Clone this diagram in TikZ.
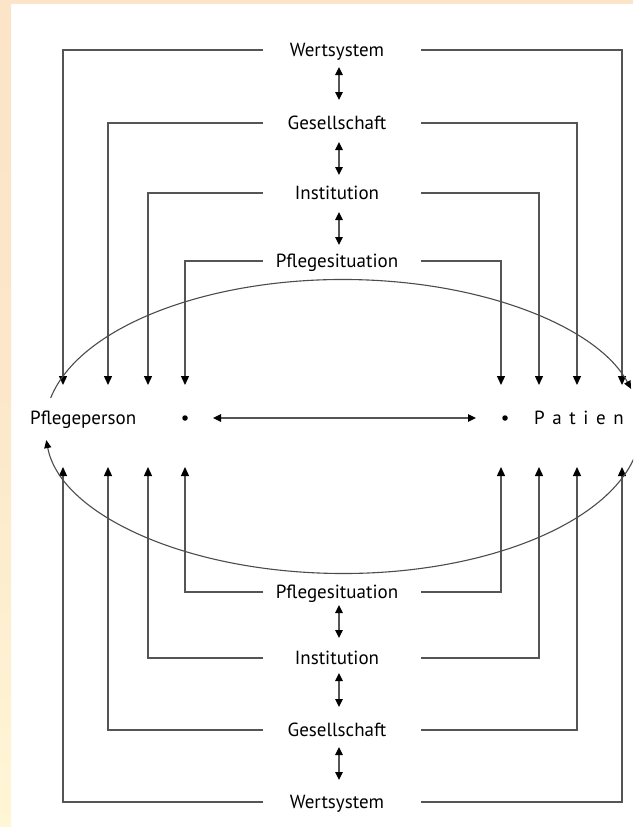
\documentclass[tikz,border=0pt]{standalone}
\usepackage{fontspec}
\setmainfont{PT Sans}
\usetikzlibrary{arrows.meta,calc}
\definecolor{peach}{HTML}{FBE4C8}
\definecolor{paleyel}{HTML}{FFF6D6}
\definecolor{linegray}{HTML}{555555}
\newcommand{\lsp}{\hspace{7.6pt}}
\begin{document}
\begin{tikzpicture}[x=1pt,y=1pt,
  lbl/.style={inner sep=0pt,anchor=base,font=\fontsize{19}{22}\selectfont,text=black},
  conn/.style={draw=linegray,line width=1.3pt},
  tip/.style={-{Triangle[length=9pt,width=8pt,fill=black,color=black]}},
  dtip/.style={{Triangle[length=8pt,width=7.5pt,color=black]}-{Triangle[length=8pt,width=7.5pt,color=black]}},
  ell/.style={draw=black!70,line width=1.1pt},
  dotn/.style={circle,fill=black,inner sep=0pt,minimum size=5.5pt}]
\useasboundingbox (0,0) rectangle (633,-827);
\fill[white] (0,0) rectangle (633,-827);
\shade[top color=peach,bottom color=paleyel,middle color=peach!80!paleyel] (0,0) rectangle (11,-827);
\fill[peach] (0,0) rectangle (633,-3.5);
\begin{scope}
\clip (0,0) rectangle (633,-827);
% labels top
\node[lbl] (wt) at (337,-56.5) {Wertsystem};
\node[lbl] (gt) at (337,-129.5) {Gesellschaft};
\node[lbl] (it) at (337,-199.5) {Institution};
\node[lbl] (pt) at (337,-267.5) {Pflegesituation};
% labels bottom
\node[lbl] (pb) at (337,-598.5) {Pflegesituation};
\node[lbl] (ib) at (337,-664.5) {Institution};
\node[lbl] (gb) at (337,-736.5) {Gesellschaft};
\node[lbl] (wb) at (337,-808.5) {Wertsystem};
% middle
\node[lbl,anchor=base west] (pp) at (30,-424.5) {Pflegeperson};
\node[lbl,anchor=base west] (pa) at (534,-424.5) {P\lsp a\lsp t\lsp i\lsp e\lsp n};
\node[dotn] (d1) at (185,-418) {};
\node[dotn] (d2) at (505,-418) {};
\coordinate (hL) at (213,-418);
\coordinate (hR) at (476,-418);
\draw[conn,dtip] (hL) -- (hR);
% double arrows between levels
\foreach \a/\b in {67/100,142/175,212/245,605/638,673/707,747/780}{
  \draw[conn,dtip] (339,-\a) -- (339,-\b);
}
% top connectors
\foreach \y/\xl/\xr in {50/63/622,123/108/577,193/148/539,261/185/501}{
  \coordinate (tl) at (263,-\y);
  \coordinate (tlc) at (\xl,-\y);
  \coordinate (tle) at (\xl,-385);
  \coordinate (tr) at (421,-\y);
  \coordinate (trc) at (\xr,-\y);
  \coordinate (tre) at (\xr,-385);
  \draw[conn,tip] (tl) -- (tlc) -- (tle);
  \draw[conn,tip] (tr) -- (trc) -- (tre);
}
% bottom connectors
\foreach \y/\xl/\xr in {592/185/501,658/148/539,730/108/577,802/63/622}{
  \coordinate (bl) at (263,-\y);
  \coordinate (blc) at (\xl,-\y);
  \coordinate (ble) at (\xl,-467);
  \coordinate (br) at (421,-\y);
  \coordinate (brc) at (\xr,-\y);
  \coordinate (bre) at (\xr,-467);
  \draw[conn,tip] (bl) -- (blc) -- (ble);
  \draw[conn,tip] (br) -- (brc) -- (bre);
}
% ellipse
\coordinate (ec) at (343,-426.5);
\draw[ell,-{Triangle[length=8pt,width=7pt,color=black]}] ($(ec)+(168.8:298pt and 147pt)$) arc[start angle=168.8,end angle=14.8,x radius=298pt,y radius=147pt];
\draw[ell,-{Triangle[length=8pt,width=7pt,color=black]}] ($(ec)+(-5:298pt and 147pt)$) arc[start angle=-5,end angle=-174.7,x radius=298pt,y radius=147pt];
\end{scope}
\end{tikzpicture}
\end{document}
